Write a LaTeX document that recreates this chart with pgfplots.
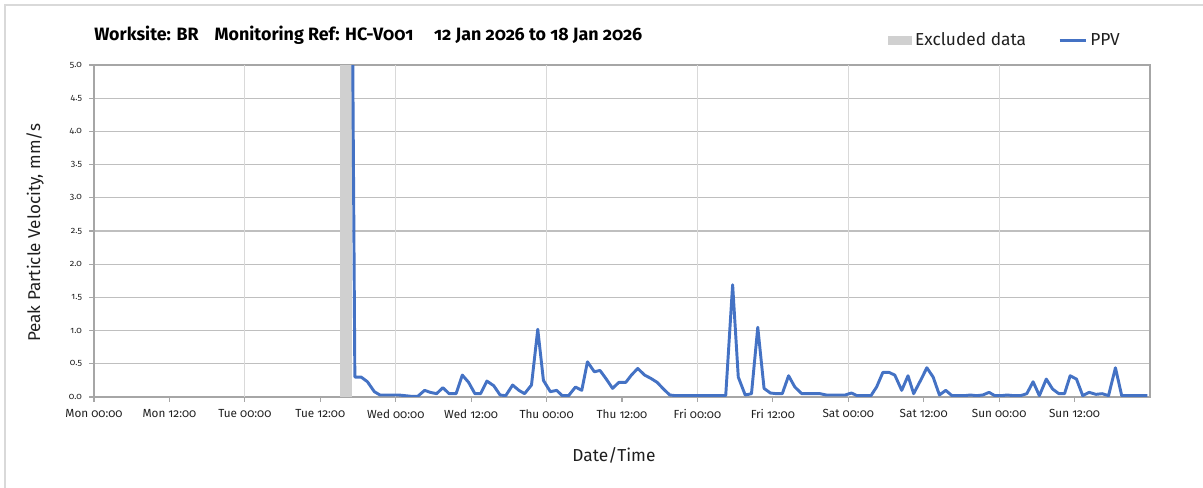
\documentclass[border=0pt]{standalone}
\usepackage{pgfplots}
\pgfplotsset{compat=1.18}
\usepackage{fontspec}
\setmainfont{Fira Sans}[Numbers=OldStyle]
\definecolor{ppv}{HTML}{4472C4}
\definecolor{excl}{HTML}{D0D0D0}
\definecolor{hgrid}{HTML}{BFBFBF}
\definecolor{vgrid}{HTML}{D9D9D9}
\definecolor{axgray}{HTML}{A6A6A6}
\definecolor{txt}{HTML}{1F1F1F}
\begin{document}
\begin{tikzpicture}
\path[use as bounding box] (-70.5pt,-68.25pt) rectangle (831.75pt,297.75pt);
\draw[vgrid, line width=0.8pt] (-66.75pt,-70pt) -- (-66.75pt,294pt) -- (835pt,294pt);
\begin{axis}[
  at={(0,0)}, anchor=south west,
  scale only axis, width=792pt, height=249pt,
  xmin=0, xmax=168, ymin=0, ymax=5,
  xtick={0,12,...,156},
  xticklabels={Mon 00:00,Mon 12:00,Tue 00:00,Tue 12:00,Wed 00:00,Wed 12:00,Thu 00:00,Thu 12:00,Fri 00:00,Fri 12:00,Sat 00:00,Sat 12:00,Sun 00:00,Sun 12:00},
  extra x ticks={24,48,72,96,120,144},
  extra x tick labels={},
  extra x tick style={grid=major, major tick length=0pt, major grid style={vgrid, line width=0.8pt}},
  ytick={0,0.5,...,5},
  ymajorgrids, major grid style={hgrid, line width=0.8pt},
  tick align=outside, tick pos=left,
  major tick length=3.5pt,
  tick style={axgray, line width=0.8pt},
  axis line style={axgray, line width=0.9pt},
  yticklabel style={/pgf/number format/fixed, /pgf/number format/precision=1, /pgf/number format/fixed zerofill, /pgf/number format/assume math mode=true, font=\fontsize{6.8}{7}\selectfont, text=txt, xshift=-2pt},
  xticklabel style={font=\fontsize{8.8}{9}\selectfont, text=txt, yshift=-2.5pt},
  xlabel={Date/Time},
  ylabel={Peak Particle Velocity, mm/s},
  xlabel style={font=\fontsize{13}{14}\selectfont, text=txt, at={(axis description cs:0.4924,-0.1747)}, anchor=center},
  ylabel style={font=\fontsize{12.8}{13}\selectfont, text=txt, at={(axis description cs:-0.0559,0.494)}, anchor=center},
  legend columns=2,
  legend style={at={(axis description cs:0.752,1.075)}, anchor=west, draw=none, fill=none,
    font=\fontsize{13}{14}\selectfont, text=txt, inner sep=0pt,
    /tikz/every even column/.append style={column sep=22pt}},
  legend cell align=left,
  clip mode=individual,
]
\addplot[fill=excl, draw=none, area legend,
  legend image code/.code={\fill[excl] (0pt,-3.4pt) rectangle (18pt,3.4pt);}]
  coordinates {(39.1,5) (41.1,5)} \closedcycle;
\addlegendentry{Excluded data}
\addplot[ppv, line width=2.2pt, line join=round,
  legend image code/.code={\draw[ppv, line width=2.2pt] (0pt,0pt) -- (20pt,0pt);}]
  coordinates {
(41.15,5.3) (41.5,0.30) (42.5,0.30) (43.5,0.23) (44.6,0.08) (45.5,0.03) (46.5,0.03)
(47.5,0.03) (48.5,0.03) (49.5,0.02) (50.5,0.01) (51.5,0.01) (52.6,0.10) (53.5,0.07)
(54.5,0.05) (55.5,0.14) (56.5,0.05) (57.6,0.05) (58.6,0.33) (59.6,0.22) (60.6,0.05)
(61.5,0.05) (62.5,0.24) (63.6,0.17) (64.6,0.03) (65.5,0.02) (66.6,0.18) (67.6,0.10)
(68.5,0.05) (69.6,0.18) (70.6,1.02) (71.5,0.25) (72.6,0.08) (73.6,0.10) (74.5,0.02)
(75.5,0.02) (76.6,0.15) (77.6,0.10) (78.5,0.53) (79.6,0.38) (80.5,0.40) (81.5,0.27)
(82.5,0.13) (83.5,0.22) (84.6,0.22) (85.5,0.33) (86.5,0.43) (87.6,0.33) (88.6,0.28)
(89.6,0.22) (90.6,0.12) (91.6,0.03) (92.6,0.02) (93.5,0.02) (94.5,0.02) (95.5,0.02)
(96.5,0.02) (97.5,0.02) (98.5,0.02) (99.5,0.02) (100.5,0.02) (101.6,1.69) (102.5,0.30)
(103.6,0.03) (104.6,0.05) (105.6,1.05) (106.6,0.13) (107.6,0.06) (108.6,0.05) (109.5,0.05)
(110.5,0.32) (111.5,0.15) (112.6,0.05) (113.5,0.05) (114.5,0.05) (115.5,0.05) (116.5,0.03)
(117.5,0.03) (118.5,0.03) (119.5,0.03) (120.5,0.06) (121.4,0.02) (122.5,0.02) (123.6,0.02)
(124.5,0.15) (125.5,0.37) (126.5,0.37) (127.4,0.33) (128.5,0.10) (129.5,0.32) (130.4,0.05)
(131.5,0.25) (132.5,0.44) (133.5,0.30) (134.5,0.03) (135.5,0.10) (136.5,0.02) (137.5,0.02)
(138.5,0.02) (139.4,0.03) (140.4,0.02) (141.4,0.03) (142.4,0.07) (143.3,0.02) (144.3,0.02)
(145.3,0.03) (146.3,0.02) (147.4,0.02) (148.4,0.05) (149.4,0.23) (150.4,0.02) (151.5,0.27)
(152.5,0.12) (153.5,0.05) (154.4,0.05) (155.3,0.32) (156.3,0.27) (157.3,0.02) (158.3,0.07)
(159.4,0.04) (160.4,0.05) (161.4,0.02) (162.5,0.44) (163.5,0.02) (164.5,0.02) (165.5,0.02)
(166.5,0.02) (167.6,0.02)
  };
\addlegendentry{PPV}
\node[anchor=west, font=\bfseries\fontsize{13.4}{14}\selectfont, text=black, inner sep=0pt]
  at (axis description cs:0,1.0904)
  {Worksite: BR\hspace{12pt}Monitoring Ref: HC-V001\hspace{15.5pt}12 Jan 2026 to 18 Jan 2026};
\end{axis}
\end{tikzpicture}
\end{document}
